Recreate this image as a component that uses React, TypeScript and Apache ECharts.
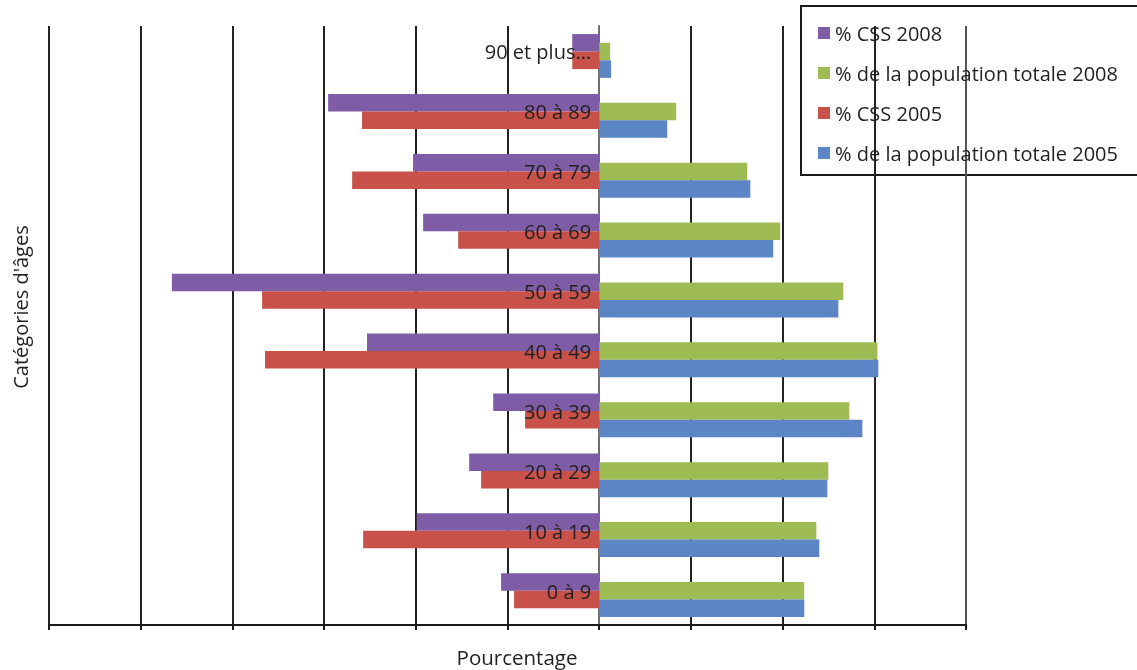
import React, { useEffect, useRef } from "react";
import * as echarts from "echarts";

const categories = ["0 à 9", "10 à 19", "20 à 29", "30 à 39", "40 à 49", "50 à 59", "60 à 69", "70 à 79", "80 à 89", "90 et plus..."];
// CSS shares are drawn to the left (negative side)
const css2008 = [5.35, 9.95, 7.09, 5.78, 12.66, 23.3, 9.6, 10.15, 14.78, 1.47];
const pop2008 = [11.18, 11.84, 12.49, 13.64, 15.17, 13.31, 9.87, 8.07, 4.2, 0.6];
const css2005 = [4.64, 12.87, 6.44, 4.04, 18.22, 18.38, 7.69, 13.47, 12.93, 1.47];
const pop2005 = [11.18, 12.0, 12.44, 14.35, 15.22, 13.04, 9.49, 8.24, 3.71, 0.65];
const seriesNames = ["% CSS 2008", "% de la population totale 2008", "% CSS 2005", "% de la population totale 2005"];
const colors = ["#7E5DA6", "#9EBB54", "#C8514A", "#5B85C4"];

const FONT = "'Open Sans', sans-serif";
const TXT = "#231F20";

export default function App() {
  const ref = useRef<HTMLDivElement>(null);
  useEffect(() => {
    if (!ref.current) return;
    const chart = echarts.init(ref.current, undefined, { renderer: "svg" });
    const gridColors = ["#222", "#222", "#222", "#222", "#222", "#222", "#6e6e6e", "#222", "#222", "#222", "#555"];
    const mk = (name: string, data: number[], color: string) => ({
      name,
      type: "bar",
      data,
      barWidth: 17.5,
      barGap: "-50%",
      xAxisIndex: 0,
      yAxisIndex: 0,
      itemStyle: { color },
    });
    const xMin = -30;
    const xMax = 20;
    const gridLeft = 49;
    const gridRight = 171;
    const plotW = 1137 - gridLeft - gridRight;
    const zeroOffset = (-xMin / (xMax - xMin)) * plotW;
    chart.setOption({
      animation: false,
      textStyle: { fontFamily: FONT },
      grid: [
        { left: gridLeft, right: gridRight, top: 26, bottom: 45, containLabel: false, outerBoundsMode: "none" },
        // label-only grid, shifted up a few pixels so category labels sit like the reference
        { left: gridLeft, right: gridRight, top: 22, bottom: 49, containLabel: false, outerBoundsMode: "none" },
      ],
      legend: {
        orient: "vertical",
        left: 818,
        top: 23,
        padding: 0,
        itemWidth: 12,
        itemHeight: 12,
        itemGap: 20,
        icon: "rect",
        data: seriesNames,
        textStyle: { fontSize: 20, color: TXT, fontFamily: FONT, lineHeight: 20 },
      },
      xAxis: [
        {
          type: "value",
          gridIndex: 0,
          min: xMin,
          max: xMax,
          interval: 5,
          axisLabel: { show: false },
          axisLine: { show: true, onZero: false, lineStyle: { color: "#1a1a1a", width: 2 } },
          axisTick: { show: true, length: 5, lineStyle: { color: "#1a1a1a", width: 2 } },
          splitLine: { show: true, lineStyle: { color: gridColors, width: 2 } },
        },
        {
          type: "value",
          gridIndex: 1,
          min: xMin,
          max: xMax,
          interval: 5,
          show: false,
        },
      ],
      yAxis: [
        {
          type: "category",
          gridIndex: 0,
          data: categories,
          axisLine: { show: true, onZero: true, lineStyle: { color: "#6e6e6e", width: 2 } },
          axisTick: { show: false },
          axisLabel: { show: false },
          splitLine: { show: false },
        },
        {
          type: "category",
          gridIndex: 1,
          data: categories,
          position: "left",
          offset: -zeroOffset,
          axisLine: { show: false, onZero: false },
          axisTick: { show: false },
          axisLabel: { fontSize: 20, color: TXT, fontFamily: FONT, margin: 8 },
          splitLine: { show: false },
          z: 5,
        },
      ],
      graphic: [
        {
          type: "rect",
          shape: { x: 801, y: 6, width: 400, height: 169 },
          style: { fill: "none", stroke: "#1a1a1a", lineWidth: 2 },
          silent: true,
        },
        {
          type: "text",
          x: 517,
          y: 657,
          style: { text: "Pourcentage", fontSize: 20.5, fill: TXT, fontFamily: FONT, align: "center", verticalAlign: "middle" },
        },
        {
          type: "text",
          x: 20,
          y: 307,
          rotation: Math.PI / 2,
          style: { text: "Catégories d'âges", fontSize: 20, fill: TXT, fontFamily: FONT, align: "center", verticalAlign: "middle" },
        },
      ],
      series: [
        mk(seriesNames[0], css2008.map((v) => -v), colors[0]),
        mk(seriesNames[1], pop2008, colors[1]),
        mk(seriesNames[2], css2005.map((v) => -v), colors[2]),
        mk(seriesNames[3], pop2005, colors[3]),
      ],
    });
    return () => chart.dispose();
  }, []);
  return <div ref={ref} style={{ position: "fixed", left: 0, top: 0, width: 1137, height: 670 }} />;
}
